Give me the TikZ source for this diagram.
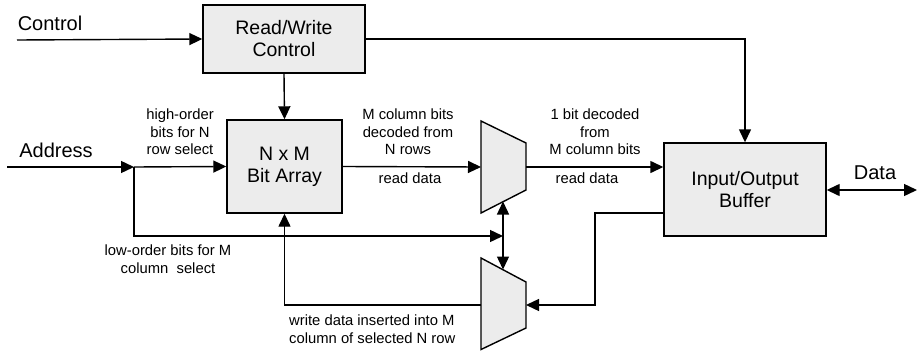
\documentclass[tikz,border=0pt]{standalone}
\usepackage{fontspec}
\setmainfont{Liberation Sans}
\usetikzlibrary{arrows.meta, positioning, calc}
\definecolor{boxgray}{RGB}{236, 236, 236}

\begin{document}
\begin{tikzpicture}[x=1pt, y=-1pt,
  >={Triangle[length=13pt, width=12pt]},
  blk/.style={draw, line width=1.4pt, fill=boxgray, align=center, inner sep=0pt, font=\fontsize{19.5}{22}\selectfont},
  wire/.style={line width=1.4pt},
  lbl/.style={align=center, inner sep=0pt, font=\fontsize{14.8}{17.5}\selectfont},
  big/.style={inner sep=0pt, font=\fontsize{20}{24}\selectfont}
]
  \useasboundingbox (0,0) rectangle (921,351);

  % blocks
  \node[blk, minimum width=162pt, minimum height=68pt] (rw) at (284, 39) {Read/Write\\Control};
  \node[blk, minimum width=115pt, minimum height=93pt] (ba) at (284.5, 166.5) {N x M\\Bit Array};
  \node[blk, minimum width=162pt, minimum height=93pt] (io) at (745, 189.5) {Input/Output\\Buffer};

  % the two selectors
  \draw[wire, fill=boxgray] (481,121) -- (526,143) -- (526,190) -- (481,213) -- cycle;
  \draw[wire, fill=boxgray] (481,258) -- (526,282) -- (526,328) -- (481,349.5) -- cycle;
  \coordinate (m1in) at (481,167);
  \coordinate (m1out) at (526,167);
  \coordinate (m1bot) at (503,201.5);
  \coordinate (m2top) at (503,269.5);
  \coordinate (m2in) at (526,305);
  \coordinate (m2out) at (481,305);

  % free ends
  \coordinate (ctlin) at (17,40);
  \coordinate (addrin) at (7,167);
  \coordinate (jn) at (134,167);
  \coordinate (sel) at (503,236);
  \coordinate (wrback) at (595,213);
  \coordinate (dataout) at (917,190);

  % texts
  \node[big] (ctltxt) at (50,23) {Control};
  \node[big] (addrtxt) at (56,150) {Address};
  \node[big] (datatxt) at (875,173) {Data};
  \node[lbl] (hitxt) at (180,132) {high-order\\bits for N\\row select};
  \node[lbl] (coltxt) at (408,132) {M column bits\\decoded from\\N rows};
  \node[lbl] (rd1txt) at (410,178) {read data};
  \node[lbl] (bittxt) at (595,132) {1 bit decoded\\from\\M column bits};
  \node[lbl] (rd2txt) at (587,178) {read data};
  \node[lbl] (lotxt) at (168,259) {low-order bits for M\\column\ \ select};
  \node[lbl, anchor=west, align=left] (wrtxt) at (289,329) {write data inserted into M\\column of selected N row};

  % connectors
  \draw[wire, ->] (ctlin) -- (rw.west);
  \draw[wire, ->] (rw.east) -| (io.north);
  \draw[wire, ->] (rw.south) -- (ba.north);
  \draw[wire, ->] (addrin) -- (jn);
  \draw[wire, ->] (jn) -- (ba.west);
  \draw[wire, ->] (jn) |- (sel);
  \draw[wire, <->] (m1bot) -- (m2top);
  \draw[wire, ->] (ba.east) -- (m1in);
  \draw[wire, ->] (m1out) -- (io.west |- m1out);
  \draw[wire, <->] (io.east |- dataout) -- (dataout);
  \draw[wire, ->] (io.west |- wrback) -- (wrback) |- (m2in);
  \draw[wire, ->] (m2out) -| (ba.south);
\end{tikzpicture}
\end{document}
